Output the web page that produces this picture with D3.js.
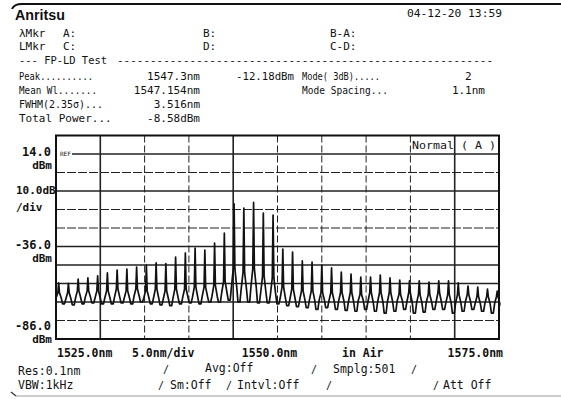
<!DOCTYPE html>
<html><head><meta charset="utf-8">
<script src="https://cdn.jsdelivr.net/npm/d3@7/dist/d3.min.js"></script>
<style>
html,body{margin:0;padding:0;background:#fff;}
svg text{font-family:"DejaVu Sans Mono",monospace;fill:#111;}
</style></head>
<body>
<svg id="c" width="561" height="399"></svg>
<script>
// ---------- data ----------
const modeWavelengths = [1525.3,1526.4,1527.5,1528.6,1529.7,1530.8,1531.9,1533.0,1534.1,1535.2,
  1536.3,1537.4,1538.5,1539.6,1540.7,1541.8,1542.9,1544.0,1545.1,1546.2,
  1547.3,1548.4,1549.5,1550.6,1551.7,1552.8,1553.9,1555.0,1556.1,1557.2,
  1558.3,1559.4,1560.5,1561.6,1562.7,1563.8,1564.9,1566.0,1567.1,1568.2,
  1569.3,1570.4,1571.5,1572.6,1573.7,1574.8];
const modePeakDbm = [-55.7,-55.9,-53.6,-53.0,-51.9,-50.3,-48.7,-48.2,-47.1,-46.0,
  -44.9,-45.2,-41.7,-39.5,-36.8,-37.9,-34.1,-28.7,-12.9,-15.2,
  -12.18,-17.9,-19.0,-37.4,-39.0,-43.8,-44.4,-46.0,-47.6,-49.8,
  -50.9,-52.5,-52.5,-51.4,-53.0,-54.1,-54.6,-54.6,-55.2,-54.6,
  -54.6,-55.7,-57.4,-57.9,-59.0,-60.1];
const modeShoulderDbm = [-61,-61,-60,-60,-60,-60,-59,-60,-59,-60,
  -59,-60,-59,-59,-58,-58,-57,-55,-48,-50,
  -48,-52,-53,-58,-59,-60,-60,-61,-61,-61,
  -61,-62,-61,-61,-61,-62,-61,-62,-62,-61,
  -62,-62,-62,-63,-63,-63];
const modeBaseDbm = [-64,-64.5,-64,-63.5,-64,-64,-63.5,-64,-63,-64,
  -64,-64.5,-64,-63.5,-63.5,-63,-63,-61,-58,-59,
  -58,-61,-62,-64,-64.5,-65,-65,-65,-65.5,-65.5,
  -66,-65.5,-66,-66,-66,-65.5,-66,-66.5,-66,-66,
  -66.5,-66.5,-66,-67,-67,-67];
const valleyDbm = [-67,-67.5,-67,-66.5,-67,-67,-66.5,-67,-66,-67,
  -67.5,-68,-67,-66.5,-67,-66,-66,-65,-66,-66,
  -66.5,-66.5,-67,-68,-68.5,-69,-70,-69,-70,-70.5,
  -71,-70,-71,-72,-71,-70,-72,-71.5,-70,-70,
  -72,-71,-70,-71,-72];
const traceStartDbm = -66;
const traceEndDbm = -69;

const xDomain = [1525, 1575];
const yRefDbm = 14, yBottomDbm = -86, yTopDbm = 24;
const xGridValues = [1530,1535,1540,1545,1550,1555,1560,1565,1570];
const xGridSolid  = [true,false,false,true,false,false,false,false,true];
const yGridValues = [14,4,-6,-16,-26,-36,-46,-56,-66,-76];
const yGridSolid  = [true,false,true,false,false,true,true,true,true,false];

const yLabels = [{v:14,t:"14.0",u:"dBm"},{v:-36,t:"-36.0",u:"dBm"},{v:-86,t:"-86.0",u:"dBm"}];
const xLabels = [{v:1525,t:"1525.0nm",a:"start"},{v:1550,t:"1550.0nm",a:"middle"},{v:1575,t:"1575.0nm",a:"end"}];

// ---------- drawing ----------
const svg = d3.select("#c");
const x = d3.scaleLinear().domain(xDomain).range([56, 499]);
const y = d3.scaleLinear().domain([yRefDbm, yBottomDbm]).range([154, 339]);

function txt(xp, yp, s, opt={}) {
  const t = svg.append("text").attr("x", xp).attr("y", yp).text(s)
    .attr("font-size", opt.size || 11)
    .attr("text-anchor", opt.anchor || "start");
  if (opt.weight) t.attr("font-weight", opt.weight);
  if (opt.family) t.style("font-family", opt.family);
  if (opt.len) t.attr("textLength", opt.len).attr("lengthAdjust","spacingAndGlyphs");
  return t;
}

// top rule
svg.append("path").attr("d","M12,9 Q14,4 22,4 L561,4").attr("fill","none").attr("stroke","#111").attr("stroke-width",2);
// bottom paper edge
svg.append("line").attr("x1",16).attr("x2",561).attr("y1",396).attr("y2",396).attr("stroke","#bbb").attr("stroke-width",1.5);
svg.append("line").attr("x1",11).attr("x2",16).attr("y1",392).attr("y2",396).attr("stroke","#333").attr("stroke-width",1.2);

// header
txt(15, 20, "Anritsu", {size:14, weight:"bold", family:"Liberation Sans", len:50});
txt(407, 17, "04-12-20 13:59", {len:95});
txt(19, 37, "λMkr"); txt(63, 37, "A:"); txt(203, 37, "B:"); txt(330, 37, "B-A:");
txt(19, 50, "LMkr"); txt(63, 50, "C:"); txt(203, 50, "D:"); txt(330, 50, "C-D:");
txt(19, 64, "--- FP-LD Test", {len:88});
txt(117, 64, "-".repeat(57), {len:376});
txt(19, 80, "Peak..........", {len:74});
txt(200, 80, "1547.3nm", {anchor:"end"});
txt(236, 80, "-12.18dBm", {len:58});
txt(302, 80, "Mode( 3dB).....", {len:78});
txt(465, 80, "2");
txt(19, 94, "Mean Wl.......", {len:78});
txt(200, 94, "1547.154nm", {anchor:"end"});
txt(302, 94, "Mode Spacing...", {len:86});
txt(485, 94, "1.1nm", {anchor:"end"});
txt(19, 108, "FWHM(2.35σ)...", {len:84});
txt(200, 108, "3.516nm", {anchor:"end"});
txt(19, 122, "Total Power...");
txt(200, 122, "-8.58dBm", {anchor:"end"});

// grid
const g = svg.append("g");
g.selectAll("line.vx").data(xGridValues).join("line")
  .attr("x1", d => x(d)).attr("x2", d => x(d))
  .attr("y1", y(yTopDbm)).attr("y2", y(yBottomDbm))
  .attr("stroke", "#222")
  .attr("stroke-width", (d,i) => xGridSolid[i] ? 1.6 : 1)
  .attr("stroke-dasharray", (d,i) => xGridSolid[i] ? null : "7,3");
g.selectAll("line.hy").data(yGridValues).join("line")
  .attr("x1", (d,i) => i === 0 ? x(1525) + 16 : x(1525)).attr("x2", x(1575))
  .attr("y1", d => y(d)).attr("y2", d => y(d))
  .attr("stroke", "#222")
  .attr("stroke-width", (d,i) => yGridSolid[i] ? 1.5 : 1.1)
  .attr("stroke-dasharray", (d,i) => yGridSolid[i] ? null : "9,2");
txt(x(1525) + 4, y(14) + 2, "REF", {size:6});

// trace
const pts = [[xDomain[0], traceStartDbm]];
modeWavelengths.forEach((w, i) => {
  pts.push([w - 0.3, modeBaseDbm[i]]);
  pts.push([w - 0.09, modeShoulderDbm[i]]);
  pts.push([w, modePeakDbm[i]]);
  pts.push([w + 0.09, modeShoulderDbm[i]]);
  pts.push([w + 0.3, modeBaseDbm[i]]);
  if (i < valleyDbm.length) {
    pts.push([w + 0.44, valleyDbm[i]]);
    pts.push([w + 0.66, valleyDbm[i]]);
  }
});
pts.push([xDomain[1], traceEndDbm]);
svg.append("path").datum(pts)
  .attr("d", d3.line().x(d => x(d[0])).y(d => y(d[1])))
  .attr("fill", "none").attr("stroke", "#111").attr("stroke-width", 1.7)
  .attr("stroke-linejoin", "round");

// frame
svg.append("rect").attr("x", x(1525)).attr("y", y(yTopDbm))
  .attr("width", x(1575) - x(1525)).attr("height", y(yBottomDbm) - y(yTopDbm))
  .attr("fill", "none").attr("stroke", "#111").attr("stroke-width", 2);

// Normal (A)
txt(412, 149, "Normal ( A )", {len:84});

// y labels
yLabels.forEach((d, i) => {
  const off = i === 2 ? -11 : 0;
  txt(51, y(d.v) + 2 + off, d.t, {size:12, weight:"bold", anchor:"end"});
  txt(52, y(d.v) + 15 + off, d.u, {size:11, weight:"bold", anchor:"end"});
});
txt(16, 194, "10.0dB", {size:11, weight:"bold"});
txt(16, 211, "/div", {size:11, weight:"bold"});

// x labels
xLabels.forEach(d => {
  const xp = d.a === "start" ? x(d.v) + 1 : d.a === "end" ? x(d.v) + 4 : x(d.v) - 8;
  txt(xp, 357, d.t, {size:11.5, weight:"bold", anchor:d.a});
});
txt(132, 357, "5.0nm/div", {size:11.5, weight:"bold"});
txt(342, 357, "in Air", {size:11.5, weight:"bold"});

// bottom settings
txt(18, 375, "Res:0.1nm", {size:11.5});
txt(163, 373, "/", {size:10});
txt(205, 372, "Avg:Off", {size:11.5});
txt(311, 373, "/", {size:10});
txt(333, 373, "Smplg:501", {size:11.5});
txt(411, 373, "/", {size:10});
txt(18, 389, "VBW:1kHz", {size:11.5});
txt(158, 389, "/", {size:10});
txt(170, 389, "Sm:Off", {size:11.5});
txt(226, 389, "/", {size:10});
txt(237, 389, "Intvl:Off", {size:11.5});
txt(326, 389, "/", {size:10});
txt(433, 389, "/", {size:10});
txt(443, 389, "Att Off", {size:11.5});
</script>
</body></html>
